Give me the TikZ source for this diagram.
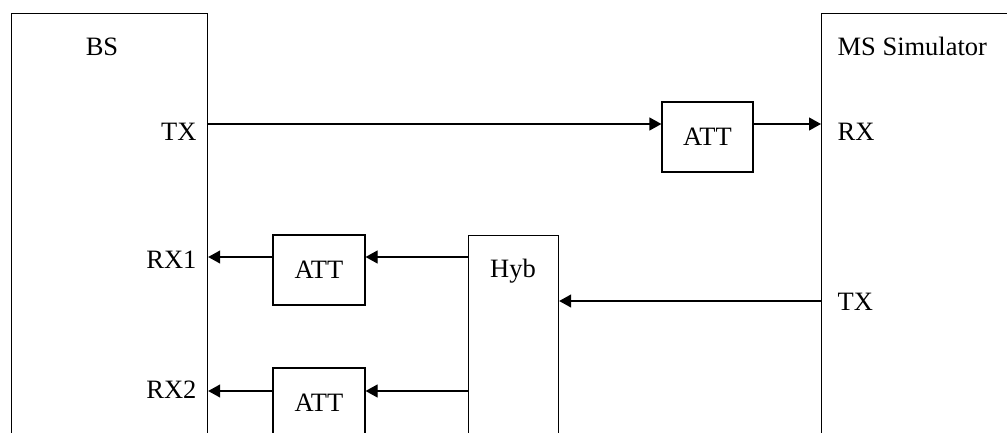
\documentclass[tikz,border=0pt]{standalone}
\usepackage{fontspec}
\setmainfont{Liberation Serif}
\usetikzlibrary{arrows.meta}
\begin{document}
\begin{tikzpicture}[
    x=1pt, y=-1pt,
    line width=1.2pt,
    box/.style={rectangle, draw, inner sep=0pt},
    txt/.style={font=\fontsize{26.5}{31}\selectfont, inner sep=0pt},
    >={Triangle[length=12pt,width=13pt]}
]
\clip (0,0) rectangle (1007,432);
% Blocchi
\node[box, anchor=north west, minimum width=196pt, minimum height=500pt] (bs) at (11,13) {};
\node[box, anchor=north west, minimum width=300pt, minimum height=500pt] (ms) at (821,13) {};
\node[box, anchor=north west, minimum width=90pt, minimum height=300pt] (hyb) at (468,235) {};
\node[box, txt, minimum width=91pt, minimum height=70pt] (att1) at (707.5,137) {ATT};
\node[box, txt, minimum width=92pt, minimum height=70pt] (att2) at (319,270) {ATT};
\node[box, txt, minimum width=92pt, minimum height=70pt] (att3) at (319,403) {ATT};

% Etichette
\node[txt, anchor=base] (bslab) at (102,55) {BS};
\node[txt, anchor=base west] (mslab) at (837,55) {MS Simulator};
\node[txt, anchor=base] (hyblab) at (513,277) {Hyb};
\node[txt, anchor=base east] (bstx) at (197,140) {TX};
\node[txt, anchor=base east] (bsrx1) at (197,268) {RX1};
\node[txt, anchor=base east] (bsrx2) at (197,398) {RX2};
\node[txt, anchor=base west] (msrx) at (837,140) {RX};
\node[txt, anchor=base west] (mstx) at (837,310) {TX};

% Collegamenti
\coordinate (p1) at (bs.east |- 0,124);
\coordinate (p2) at (ms.west |- 0,301);
\coordinate (p3) at (hyb.west |- 0,257);
\coordinate (p4) at (hyb.west |- 0,391);
\draw[->] (p1) -- (p1 -| att1.west);
\draw[->] (att1.east |- p1) -- (p1 -| ms.west);
\draw[->] (p2) -- (p2 -| hyb.east);
\draw[->] (p3) -- (p3 -| att2.east);
\draw[->] (att2.west |- p3) -- (p3 -| bs.east);
\draw[->] (p4) -- (p4 -| att3.east);
\draw[->] (att3.west |- p4) -- (p4 -| bs.east);
\end{tikzpicture}
\end{document}
